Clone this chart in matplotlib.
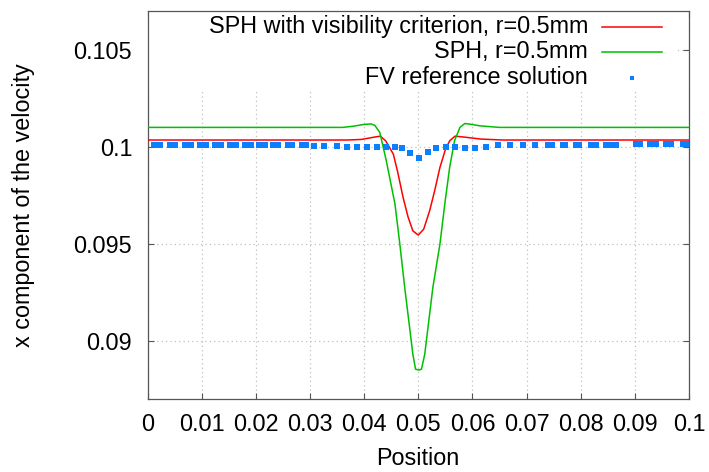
import matplotlib
matplotlib.use("Agg")
import matplotlib.pyplot as plt
from matplotlib.lines import Line2D
from matplotlib.patches import Rectangle

plt.rcParams['font.family'] = ['Liberation Sans', 'DejaVu Sans']

# ---- data ----
sph_vis_x = [0.0, 0.037, 0.0395, 0.0415, 0.0430, 0.0440, 0.0454, 0.0462, 0.0472, 0.0481,
             0.0490, 0.0500, 0.0510, 0.0521, 0.0530, 0.0540, 0.0550, 0.0558, 0.0568,
             0.0585, 0.0615, 0.0655, 0.1]
sph_vis_y = [0.10035, 0.10035, 0.10038, 0.10048, 0.10055, 0.10030, 0.09962, 0.09870, 0.09739,
             0.09640, 0.09567, 0.09545, 0.09575, 0.09670, 0.09770, 0.09893, 0.09985, 0.10031,
             0.10055, 0.10050, 0.10040, 0.10035, 0.10035]

sph_x = [0.0, 0.036, 0.0380, 0.0399, 0.0413, 0.0420, 0.0429, 0.0441, 0.0457, 0.0466, 0.0475,
         0.0484, 0.0490, 0.0495, 0.0501, 0.0506, 0.0512, 0.0518, 0.0527, 0.0540, 0.0549,
         0.0558, 0.0567, 0.0577, 0.0586, 0.0595, 0.0614, 0.0650, 0.1]
sph_y = [0.10100, 0.10100, 0.10106, 0.10115, 0.10118, 0.10110, 0.10074, 0.09928, 0.09705,
         0.09498, 0.09275, 0.09069, 0.08931, 0.08854, 0.08849, 0.08854, 0.08931, 0.09069,
         0.09275, 0.09498, 0.09705, 0.09894, 0.10031, 0.10100, 0.10120, 0.10117, 0.10108,
         0.10100, 0.10100]

fv_x = [0.00126, 0.00235, 0.00414, 0.00508, 0.00700, 0.00796, 0.00977, 0.01073, 0.01254,
        0.01350, 0.01531, 0.01627, 0.01808, 0.01904, 0.02067, 0.02163, 0.02325, 0.02415,
        0.02589, 0.02674, 0.02846, 0.02922, 0.03071, 0.03265,
        0.03494, 0.03684, 0.03874, 0.04059, 0.04233, 0.04404, 0.04565, 0.04704, 0.04853,
        0.05010, 0.05171, 0.05333, 0.05507, 0.05679,
        0.05863, 0.06048, 0.06257, 0.06478, 0.06694, 0.06940, 0.07165, 0.07405, 0.07461,
        0.07669, 0.07719, 0.07922, 0.07972, 0.08190, 0.08275, 0.08467, 0.08560, 0.08645,
        0.09021, 0.09095, 0.09283, 0.09387, 0.09575, 0.09673, 0.09882, 0.09939]
fv_y = [0.10008, 0.10008, 0.10008, 0.10008, 0.10008, 0.10008, 0.10008, 0.10008, 0.10008,
        0.10008, 0.10008, 0.10008, 0.10008, 0.10008, 0.10008, 0.10008, 0.10008, 0.10008,
        0.10008, 0.10008, 0.10007, 0.10007, 0.10005, 0.10003,
        0.10002, 0.10001, 0.10000, 0.10000, 0.10000, 0.10000, 0.09998, 0.09995, 0.09966,
        0.09940, 0.09972, 0.09992, 0.09997, 0.09997,
        0.09996, 0.09996, 0.09997, 0.10008, 0.10009, 0.10009, 0.10009, 0.10010, 0.10010,
        0.10010, 0.10010, 0.10010, 0.10010, 0.10011, 0.10011, 0.10011, 0.10011, 0.10011,
        0.10012, 0.10012, 0.10012, 0.10012, 0.10013, 0.10013, 0.10013, 0.10013]

labels = ["SPH with visibility criterion, r=0.5mm", "SPH, r=0.5mm", "FV reference solution"]
xticks = [0, 0.01, 0.02, 0.03, 0.04, 0.05, 0.06, 0.07, 0.08, 0.09, 0.1]
xticklabels = ["0", "0.01", "0.02", "0.03", "0.04", "0.05", "0.06", "0.07", "0.08", "0.09", "0.1"]
yticks = [0.09, 0.095, 0.1, 0.105]
yticklabels = ["0.09", "0.095", "0.1", "0.105"]

RED = '#ff0000'
GREEN = '#00c000'
BLUE = '#0a80ff'
FS = 16.8

fig = plt.figure(figsize=(7.09, 4.72), dpi=100)
ax = fig.add_axes([147.5 / 709, 1 - 399 / 472, (689 - 147.5) / 709, (399 - 11) / 472])

ax.set_xlim(0, 0.1)
ax.set_ylim(0.087, 0.107)

ax.grid(True, color='#c0c0c0', linestyle=(0, (1, 2.5)), linewidth=0.9, zorder=0)
ax.set_axisbelow(True)

# opaque key box covering the grid
ax.add_patch(Rectangle((0.0, 0.1029), 0.0974, 0.0041, facecolor='white',
                       edgecolor='none', zorder=1.5))

ax.plot(sph_vis_x, sph_vis_y, color=RED, lw=1.1, zorder=3)
ax.plot(sph_x, sph_y, color=GREEN, lw=1.1, zorder=3)
ax.plot(fv_x, fv_y, linestyle='none', marker='s', markersize=3.9, color=BLUE,
        markeredgewidth=0, zorder=4)

ax.set_xticks(xticks)
ax.set_xticklabels(xticklabels)
ax.set_yticks(yticks)
ax.set_yticklabels(yticklabels)
ax.tick_params(direction='in', length=4, width=0.8, color='#555555', top=True, right=True,
               labelsize=FS, labelcolor='black')
ax.tick_params(axis='x', pad=10)
ax.tick_params(axis='y', pad=11)
for s in ax.spines.values():
    s.set_color('#555555')
    s.set_linewidth(0.9)

ax.set_xlabel("Position", fontsize=FS, labelpad=8)
ax.set_ylabel("x component of the velocity", fontsize=FS, labelpad=28)

# key (drawn manually in axes fraction to mimic right-aligned gnuplot key)
def ax_xy(px, py):
    return ((px - 147.5) / (689 - 147.5), (399 - py) / (399 - 11))

key_rows = [27, 52, 78]
for lab, py, kind, col in zip(labels, key_rows, ['line', 'line', 'pt'], [RED, GREEN, BLUE]):
    tx, ty = ax_xy(588, py)
    ax.text(tx, ty, lab, transform=ax.transAxes, ha='right', va='center', fontsize=FS, zorder=5)
    if kind == 'line':
        x0, y0 = ax_xy(602, py)
        x1, _ = ax_xy(662, py)
        ax.add_line(Line2D([x0, x1], [y0, y0], transform=ax.transAxes, color=col, lw=1.1, zorder=5))
    else:
        mx, my = ax_xy(631.5, py)
        ax.add_line(Line2D([mx], [my], transform=ax.transAxes, linestyle='none', marker='s',
                           markersize=3.0, color=col, markeredgewidth=0, zorder=5))

fig.savefig("out.png", dpi=100)
